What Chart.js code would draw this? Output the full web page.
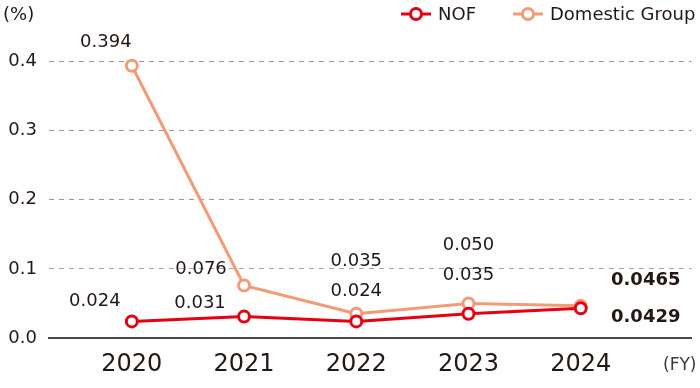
<!DOCTYPE html>
<html>
<head>
<meta charset="utf-8">
<script src="https://cdn.jsdelivr.net/npm/chart.js@4"></script>
<style>
    html, body { margin: 0; padding: 0; background: #fff; }
    #wrap { width: 700px; height: 388px; }
</style>
</head>
<body>
<div id="wrap"><canvas id="rateChart" width="700" height="388"></canvas></div>
<script>
// Fiscal years and rates (%)
const years = [2020, 2021, 2022, 2023, 2024];
const nofRates = [0.024, 0.031, 0.024, 0.035, 0.0429];
const domesticRates = [0.394, 0.076, 0.035, 0.050, 0.0465];
const nofLabels = ['0.024', '0.031', '0.024', '0.035', '0.0429'];
const domesticLabels = ['0.394', '0.076', '0.035', '0.050', '0.0465'];
const yTicks = [0, 0.1, 0.2, 0.3, 0.4];

const colors = {
    nof: '#e60012',
    domestic: '#f29b76',
    text: '#231815',
    grid: '#8d9ab0',
    gridGray: '#a6a6a6',
    base: '#4a4543'
};

const FONT = "'DejaVu Sans', sans-serif";

// label offsets from point (px), per series
const nofOffsets = [[-37, -20], [-44, -13], [0, -30], [0, -38], [65, 9]];
const domesticOffsets = [[-26, -23], [-43, -16], [0, -52], [0, -58], [65, -26]];

// data labels, legend and axis notes drawn on the canvas
const annotate = {
    id: 'annotate',
    afterDatasetsDraw(chart) {
        const ctx = chart.ctx;
        ctx.save();
        ctx.textAlign = 'center';
        ctx.textBaseline = 'middle';
        ctx.fillStyle = colors.text;
        const sets = [
            { meta: chart.getDatasetMeta(0), labels: nofLabels, offs: nofOffsets },
            { meta: chart.getDatasetMeta(1), labels: domesticLabels, offs: domesticOffsets }
        ];
        sets.forEach(s => {
            s.meta.data.forEach((pt, i) => {
                const last = i === s.labels.length - 1;
                ctx.font = (last ? 'bold ' : '') + '18px ' + FONT;
                ctx.fillText(s.labels[i], pt.x + s.offs[i][0], pt.y + s.offs[i][1]);
            });
        });

        // axis notes
        ctx.font = '18px ' + FONT;
        ctx.textAlign = 'left';
        ctx.fillText('(%)', 3, 15);
        ctx.font = '17px ' + FONT;
        ctx.fillStyle = '#3e3a39';
        ctx.fillText('(FY)', 663, 366);

        // legend
        const items = [
            { x: 401, color: colors.nof, text: 'NOF' },
            { x: 513, color: colors.domestic, text: 'Domestic Group' }
        ];
        items.forEach(it => {
            const y = 14;
            ctx.strokeStyle = it.color;
            ctx.lineWidth = 3;
            ctx.beginPath();
            ctx.moveTo(it.x, y);
            ctx.lineTo(it.x + 30, y);
            ctx.stroke();
            ctx.beginPath();
            ctx.arc(it.x + 15, y, 5.5, 0, Math.PI * 2);
            ctx.fillStyle = '#fff';
            ctx.fill();
            ctx.stroke();
            ctx.fillStyle = colors.text;
            ctx.font = '18px ' + FONT;
            ctx.fillText(it.text, it.x + 37, y + 1);
        });
        ctx.restore();
    }
};

function lineSet(label, data, color) {
    return {
        label: label,
        data: data,
        borderColor: color,
        backgroundColor: '#ffffff',
        pointBackgroundColor: '#ffffff',
        pointBorderColor: color,
        borderWidth: 3,
        pointBorderWidth: 3,
        pointRadius: 5.5,
        pointHoverRadius: 5.5,
        tension: 0,
        fill: false
    };
}

document.addEventListener('DOMContentLoaded', function() {
    const ctx = document.getElementById('rateChart');
    new Chart(ctx, {
        type: 'line',
        data: {
            labels: years,
            datasets: [
                lineSet('NOF', nofRates, colors.nof),
                lineSet('Domestic Group', domesticRates, colors.domestic)
            ]
        },
        plugins: [annotate],
        options: {
            responsive: false,
            animation: false,
            layout: { padding: { top: 34, left: 8, right: 7, bottom: 0 } },
            plugins: {
                legend: { display: false },
                tooltip: { enabled: false }
            },
            scales: {
                x: {
                    type: 'linear',
                    min: 2020 - 0.738,
                    max: 2024.987,
                    afterBuildTicks: axis => { axis.ticks = years.map(v => ({ value: v })); },
                    afterFit: axis => { axis.height = 50; },
                    grid: { display: false, drawTicks: false },
                    border: { display: true, color: colors.base, width: 2 },
                    ticks: {
                        padding: 12,
                        color: colors.text,
                        font: { family: FONT, size: 24 },
                        callback: v => String(v)
                    }
                },
                y: {
                    min: 0,
                    max: 0.44,
                    afterBuildTicks: axis => { axis.ticks = yTicks.map(v => ({ value: v })); },
                    afterFit: axis => { axis.width = 41; },
                    grid: {
                        drawTicks: false,
                        lineWidth: 1,
                        color: c => c.tick && c.tick.value === 0 ? 'rgba(0,0,0,0)'
                            : (Math.abs(c.tick.value - 0.1) < 1e-6 ? colors.gridGray : colors.grid)
                    },
                    border: { display: false, dash: [5, 5] },
                    ticks: {
                        padding: 12,
                        color: colors.text,
                        font: { family: FONT, size: 18 },
                        callback: v => v.toFixed(1)
                    }
                }
            }
        }
    });
});
</script>
</body>
</html>
